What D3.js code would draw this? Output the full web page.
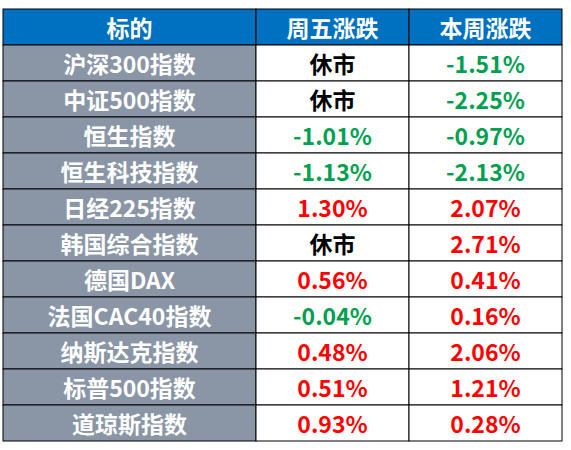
<!DOCTYPE html>
<html>
<head>
<meta charset="UTF-8">
<script src="https://cdn.jsdelivr.net/npm/d3@7"></script>
<style>body{margin:0;background:#fff}</style>
</head>
<body>
<div id="chart"></div>
<script>
var headers = ["标的", "周五涨跌", "本周涨跌"];
var names = ["沪深300指数","中证500指数","恒生指数","恒生科技指数","日经225指数","韩国综合指数","德国DAX","法国CAC40指数","纳斯达克指数","标普500指数","道琼斯指数"];
var friday = [null, null, -1.01, -1.13, 1.30, null, 0.56, -0.04, 0.48, 0.51, 0.93];
var week = [-1.51, -2.25, -0.97, -2.13, 2.07, 2.71, 0.41, 0.16, 2.06, 1.21, 0.28];

var svg = d3.select("#chart").append("svg").attr("width", 571).attr("height", 450);
var font = "'Noto Sans CJK SC', sans-serif";
var fs = 23;

var x = d3.scaleOrdinal().domain([0,1,2]).range([3, 256, 409]);
var colW = [253, 153, 153];
var y = d3.scaleBand().domain(d3.range(-1, names.length)).range([9, 441]);

function fmt(v){ return v == null ? "休市" : v.toFixed(2) + "%"; }
function col(v){ return v == null ? "#000" : (v < 0 ? "#00A050" : "#FF0000"); }

// header
var hd = svg.append("g");
hd.selectAll("rect").data(headers).join("rect")
  .attr("x", (d,i) => x(i)).attr("y", y(-1)).attr("width", (d,i) => colW[i]).attr("height", y.bandwidth())
  .attr("fill", "#0070C0").attr("stroke", "#000").attr("stroke-width", 1);
hd.selectAll("text").data(headers).join("text")
  .attr("x", (d,i) => x(i) + colW[i]/2).attr("y", y(-1) + y.bandwidth()/2)
  .attr("text-anchor", "middle").attr("dominant-baseline", "central")
  .attr("fill", "#fff").attr("font-family", font).attr("font-weight", "bold").attr("font-size", fs)
  .text(d => d);

var rows = svg.selectAll("g.row").data(names).join("g").attr("class", "row")
  .attr("transform", (d,i) => "translate(0," + y(i) + ")");
rows.append("rect").attr("x", x(0)).attr("width", colW[0]).attr("height", y.bandwidth())
  .attr("fill", "#8A96A6").attr("stroke", "#000");
rows.append("rect").attr("x", x(1)).attr("width", colW[1]).attr("height", y.bandwidth())
  .attr("fill", "#fff").attr("stroke", "#000");
rows.append("rect").attr("x", x(2)).attr("width", colW[2]).attr("height", y.bandwidth())
  .attr("fill", "#fff").attr("stroke", "#000");
rows.append("text").attr("x", x(0) + colW[0]/2).attr("y", y.bandwidth()/2)
  .attr("text-anchor", "middle").attr("dominant-baseline", "central")
  .attr("fill", "#fff").attr("font-family", font).attr("font-weight", "bold").attr("font-size", fs)
  .text(d => d);
rows.append("text").attr("x", x(1) + colW[1]/2).attr("y", y.bandwidth()/2)
  .attr("text-anchor", "middle").attr("dominant-baseline", "central")
  .attr("fill", (d,i) => col(friday[i])).attr("font-family", font).attr("font-weight", "bold").attr("font-size", fs)
  .text((d,i) => fmt(friday[i]));
rows.append("text").attr("x", x(2) + colW[2]/2).attr("y", y.bandwidth()/2)
  .attr("text-anchor", "middle").attr("dominant-baseline", "central")
  .attr("fill", (d,i) => col(week[i])).attr("font-family", font).attr("font-weight", "bold").attr("font-size", fs)
  .text((d,i) => fmt(week[i]));
</script>
</body>
</html>
